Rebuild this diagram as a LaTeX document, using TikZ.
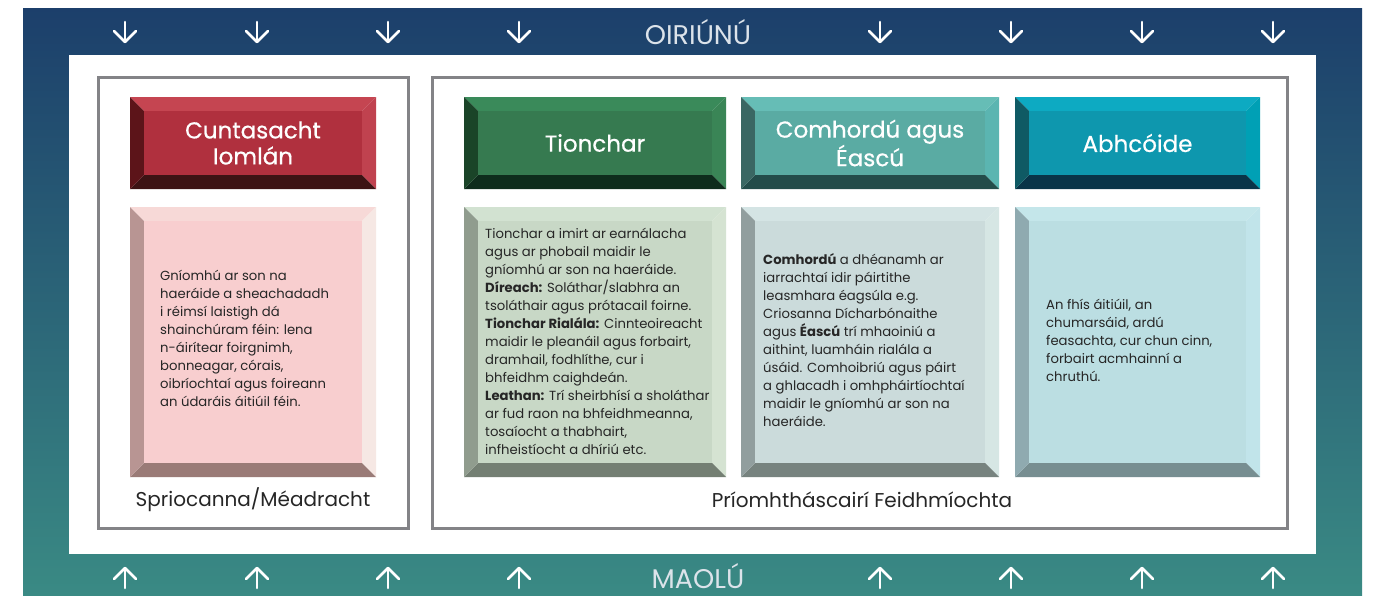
\documentclass[tikz,border=0pt]{standalone}
\usepackage{fontspec}
\setmainfont{Poppins}
\definecolor{gtop}{HTML}{1C3F6B}
\definecolor{gbot}{HTML}{3A8A84}
\definecolor{framegray}{HTML}{838387}
\definecolor{bodytext}{HTML}{262626}
\definecolor{labtext}{HTML}{DCE3EA}
% Cuntasacht header
\definecolor{rF}{HTML}{B0303E}\definecolor{rT}{HTML}{C54551}\definecolor{rR}{HTML}{C0424F}\definecolor{rB}{HTML}{3D1314}\definecolor{rL}{HTML}{5C1419}
% Cuntasacht content
\definecolor{pF}{HTML}{F8CECF}\definecolor{pT}{HTML}{F7D9D7}\definecolor{pR}{HTML}{F6E8E4}\definecolor{pB}{HTML}{9A7B77}\definecolor{pL}{HTML}{B89593}
% Tionchar header
\definecolor{gF}{HTML}{367A50}\definecolor{gT}{HTML}{3A8A5A}\definecolor{gR}{HTML}{3A8556}\definecolor{gB}{HTML}{0E2C1C}\definecolor{gL}{HTML}{1A4428}
% Tionchar content
\definecolor{lgF}{HTML}{C8D8C6}\definecolor{lgT}{HTML}{D2E2D1}\definecolor{lgR}{HTML}{D5E3D2}\definecolor{lgB}{HTML}{747F73}\definecolor{lgL}{HTML}{909C8E}
% Comhordu header
\definecolor{tF}{HTML}{5AABA3}\definecolor{tT}{HTML}{66BDB6}\definecolor{tR}{HTML}{5BB5B1}\definecolor{tB}{HTML}{234C4A}\definecolor{tL}{HTML}{3A6763}
% Comhordu content
\definecolor{ltF}{HTML}{CBDBDB}\definecolor{ltT}{HTML}{D4E4E4}\definecolor{ltR}{HTML}{D6E6E4}\definecolor{ltB}{HTML}{77837F}\definecolor{ltL}{HTML}{919E9E}
% Abhcoide header
\definecolor{cF}{HTML}{0E97AE}\definecolor{cT}{HTML}{0DAAC2}\definecolor{cR}{HTML}{00A0B5}\definecolor{cB}{HTML}{093448}\definecolor{cL}{HTML}{0F5A64}
% Abhcoide content
\definecolor{lcF}{HTML}{BBDEE2}\definecolor{lcT}{HTML}{C4E6EA}\definecolor{lcR}{HTML}{C1E4EA}\definecolor{lcB}{HTML}{778E91}\definecolor{lcL}{HTML}{8FAAB0}
% bevel box: x1 y1 x2 y2 prefix
\newcommand\bvbox[5]{%
  \fill[#5T] (#1,#2) -- (#3,#2) -- (#3-14,#2+14) -- (#1+14,#2+14) -- cycle;
  \fill[#5R] (#3,#2) -- (#3,#4) -- (#3-14,#4-14) -- (#3-14,#2+14) -- cycle;
  \fill[#5B] (#1,#4) -- (#3,#4) -- (#3-14,#4-14) -- (#1+14,#4-14) -- cycle;
  \fill[#5L] (#1,#2) -- (#1,#4) -- (#1+14,#4-14) -- (#1+14,#2+14) -- cycle;
  \fill[#5F] (#1+14,#2+14) rectangle (#3-14,#4-14);
}
\tikzset{
  frame/.style={draw=framegray, line width=3pt},
  arr/.style={draw=white, line width=2.6pt, line cap=round, line join=round},
  head/.style={text=white, align=center, inner sep=0pt, font=\fontsize{23}{26}\selectfont\addfontfeature{FakeBold=0.6}},
  body/.style={text=bodytext, align=left, anchor=west, inner sep=0pt, font=\fontsize{13.2}{18}\selectfont},
  caption/.style={text=bodytext, inner sep=0pt, font=\fontsize{20}{22}\selectfont},
  bandlab/.style={text=labtext, inner sep=0pt, anchor=base, font=\fontsize{27}{28}\selectfont},
}
\begin{document}
\begin{tikzpicture}[x=1pt,y=-1pt]
\useasboundingbox (0,0) rectangle (1373,595);
\shade[top color=gtop, bottom color=gbot] (23,8) rectangle (1362,595);
\fill[white] (69,55) rectangle (1316,554);
\draw[frame] (98,77) rectangle (408,528);
\draw[frame] (432,77) rectangle (1287,528);
% arrows
\foreach \x in {125,257,388,519,880,1011,1142,1273} {
  \draw[arr] (\x,22) -- (\x,42);
  \draw[arr] (\x-11,31) -- (\x,42) -- (\x+11,31);
  \draw[arr] (\x,588) -- (\x,568);
  \draw[arr] (\x-11,579) -- (\x,568) -- (\x+11,579);
}
\node[bandlab] (top) at (698,44) {OIRIÚNÚ};
\node[bandlab] (bot) at (698,588) {MAOLÚ};
% boxes
\bvbox{130}{97}{376}{189}{r}
\bvbox{130}{207}{376}{477}{p}
\bvbox{464}{97}{726}{189}{g}
\bvbox{464}{207}{726}{477}{lg}
\bvbox{741}{97}{999}{189}{t}
\bvbox{741}{207}{999}{477}{lt}
\bvbox{1015}{97}{1260}{189}{c}
\bvbox{1015}{207}{1260}{477}{lc}
\node[head] (h1) at (253,143) {Cuntasacht\\Iomlán};
\node[head] (h2) at (595,143) {Tionchar};
\node[head] (h3) at (870,143) {Comhordú agus\\Éascú};
\node[head] (h4) at (1137.5,143) {Abhcóide};
\node[body] (b1) at (160,338) {Gníomhú ar son na\\haeráide a sheachadadh\\i réimsí laistigh dá\\shainchúram féin: lena\\n-áirítear foirgnimh,\\bonneagar, córais,\\oibríochtaí agus foireann\\an údaráis áitiúil féin.};
\node[body] (b2) at (485,341) {Tionchar a imirt ar earnálacha\\agus ar phobail maidir le\\gníomhú ar son na haeráide.\\\textbf{Díreach:} Soláthar/slabhra an\\tsoláthair agus prótacail foirne.\\\textbf{Tionchar Rialála:} Cinnteoireacht\\maidir le pleanáil agus forbairt,\\dramhail, fodhlíthe, cur i\\bhfeidhm caighdeán.\\\textbf{Leathan:} Trí sheirbhísí a sholáthar\\ar fud raon na bhfeidhmeanna,\\tosaíocht a thabhairt,\\infheistíocht a dhíriú etc.};
\node[body] (b3) at (763,340) {\textbf{Comhordú} a dhéanamh ar\\iarrachtaí idir páirtithe\\leasmhara éagsúla e.g.\\Criosanna Dícharbónaithe\\agus \textbf{Éascú} trí mhaoiniú a\\aithint, luamháin rialála a\\úsáid. Comhoibriú agus páirt\\a ghlacadh i omhpháirtíochtaí\\maidir le gníomhú ar son na\\haeráide.};
\node[body] (b4) at (1046,340) {An fhís áitiúil, an\\chumarsáid, ardú\\feasachta, cur chun cinn,\\forbairt acmhainní a\\chruthú.};
\node[caption] (c1) at (253,500) {Spriocanna/Méadracht};
\node[caption] (c2) at (862,500) {Príomhtháscairí Feidhmíochta};
\end{tikzpicture}
\end{document}
